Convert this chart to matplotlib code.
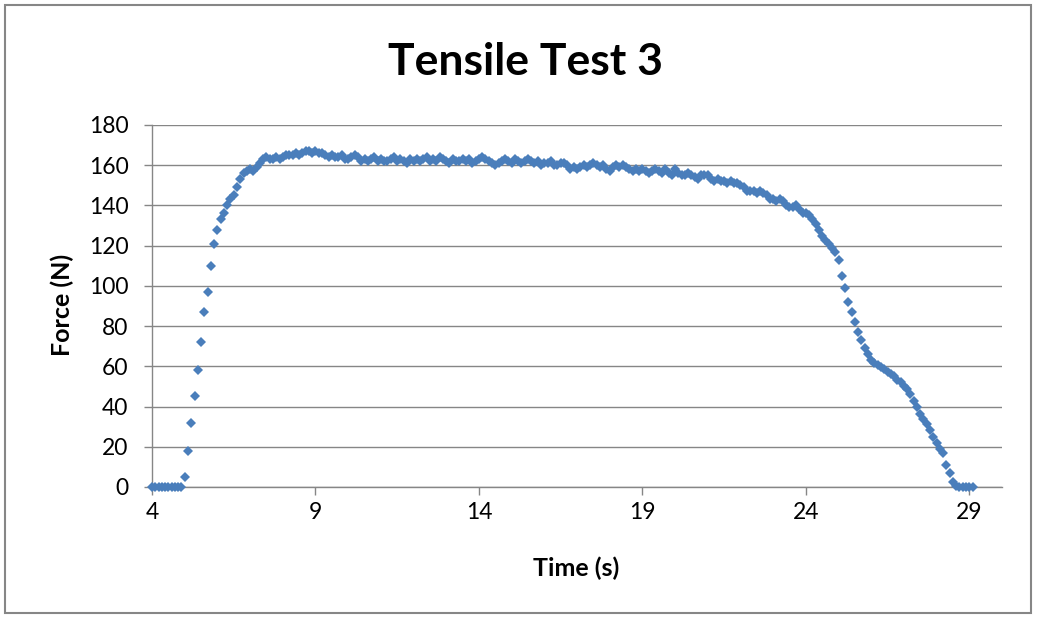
import matplotlib
matplotlib.use("Agg")
import matplotlib.pyplot as plt
from matplotlib.patches import Rectangle
import numpy as np

# Sample times (s): 4.0 .. 29.1 in 0.1 s steps
t_start = 4.0
t_step = 0.1

force = [
    # 4.0 - 4.9
    0, 0, 0, 0, 0, 0, 0, 0, 0, 0,
    # 5.0 - 5.9
    5, 18, 32, 45, 58, 72, 87, 97, 110, 121,
    # 6.0 - 6.9
    128, 133, 136, 140, 143, 145, 149, 153, 156, 157,
    # 7.0 - 7.9
    158, 157, 159, 161, 163, 164, 163, 163, 164, 163,
    # 8.0 - 8.9
    164, 165, 165, 165, 166, 165, 166, 167, 167, 166,
    # 9.0 - 9.9
    167, 166, 166, 165, 164, 165, 164, 164, 165, 163,
    # 10.0 - 10.9
    163, 164, 165, 164, 162, 163, 162, 163, 164, 162,
    # 11.0 - 11.9
    163, 162, 162, 163, 164, 162, 163, 162, 161, 163,
    # 12.0 - 12.9
    162, 163, 162, 163, 164, 162, 163, 162, 164, 163,
    # 13.0 - 13.9
    162, 161, 163, 162, 162, 163, 162, 163, 161, 162,
    # 14.0 - 14.9
    163, 164, 163, 162, 161, 160, 161, 162, 163, 162,
    # 15.0 - 15.9
    161, 163, 162, 161, 162, 163, 162, 161, 162, 160,
    # 16.0 - 16.9
    161, 161, 162, 160, 160, 161, 161, 160, 158, 159,
    # 17.0 - 17.9
    158, 159, 160, 159, 160, 161, 160, 159, 160, 158,
    # 18.0 - 18.9
    157, 159, 160, 159, 160, 159, 158, 157, 158, 157,
    # 19.0 - 19.9
    158, 157, 156, 157, 158, 157, 156, 158, 156, 155,
    # 20.0 - 20.9
    158, 156, 155, 155, 156, 155, 154, 153, 155, 155,
    # 21.0 - 21.9
    155, 153, 152, 153, 152, 152, 151, 152, 151, 151,
    # 22.0 - 22.9
    150, 149, 147, 147, 147, 146, 147, 146, 145, 143,
    # 23.0 - 23.9
    143, 142, 143, 142, 140, 139, 139, 140, 138, 136,
    # 24.0 - 24.9
    136, 135, 133, 131, 128, 125, 123, 121, 119, 117,
    # 25.0 - 25.9
    113, 105, 99, 92, 87, 82, 77, 73, 69, 66,
    # 26.0 - 26.9
    63, 61.5, 60.5, 59.5, 58.5, 57.3, 56, 55, 53, 52,
    # 27.0 - 27.9
    50, 48.6, 46, 43, 40, 36.5, 34, 31.5, 28.5, 25,
    # 28.0 - 28.9
    22, 19, 17, 11, 7, 2.5, 0.5, 0, 0, 0,
    # 29.0 - 29.1
    0, 0,
]

x_ticks = [4, 9, 14, 19, 24, 29]
y_ticks = [0, 20, 40, 60, 80, 100, 120, 140, 160, 180]

title = "Tensile Test 3"
x_label = "Time (s)"
y_label = "Force (N)"

time = t_start + t_step * np.arange(len(force))

plt.rcParams['font.family'] = ['Lato', 'DejaVu Sans']

fig = plt.figure(figsize=(10.37, 6.18), dpi=100)
ax = fig.add_axes([0.1466, 0.212, 0.8196, 0.5858])

grid_col = "#868686"
ax.plot(time, force, linestyle="none", marker="D", markersize=5.4,
        color="#4A7EBB", markeredgewidth=0, zorder=3, clip_on=False)

ax.set_xlim(4, 30)
ax.set_ylim(0, 180)
ax.set_xticks(x_ticks)
ax.set_yticks(y_ticks)
ax.yaxis.grid(True, color=grid_col, linewidth=1.0)
ax.set_axisbelow(True)
for s in ["top", "right"]:
    ax.spines[s].set_visible(False)
for s in ["left", "bottom"]:
    ax.spines[s].set_color(grid_col)
    ax.spines[s].set_linewidth(1.0)
ax.tick_params(axis="both", direction="out", length=6, width=1.0,
               color=grid_col, labelsize=16.5, labelcolor="#000000")
ax.tick_params(axis="x", pad=5)
ax.tick_params(axis="y", pad=11)

fig.text(0.5555, 0.081, x_label, ha="center", va="center",
         fontsize=18, fontweight="bold")
fig.text(0.0598, 0.5065, y_label, ha="center", va="center",
         fontsize=18, fontweight="bold", rotation=90)
fig.text(0.507, 0.9, title, ha="center", va="center",
         fontsize=32, fontweight="bold")

fig.patches.append(Rectangle((0.005, 0.008), 0.989, 0.984,
                             transform=fig.transFigure, fill=False,
                             edgecolor=grid_col, linewidth=1.5))

fig.savefig("out.png", dpi=100, facecolor="white")
